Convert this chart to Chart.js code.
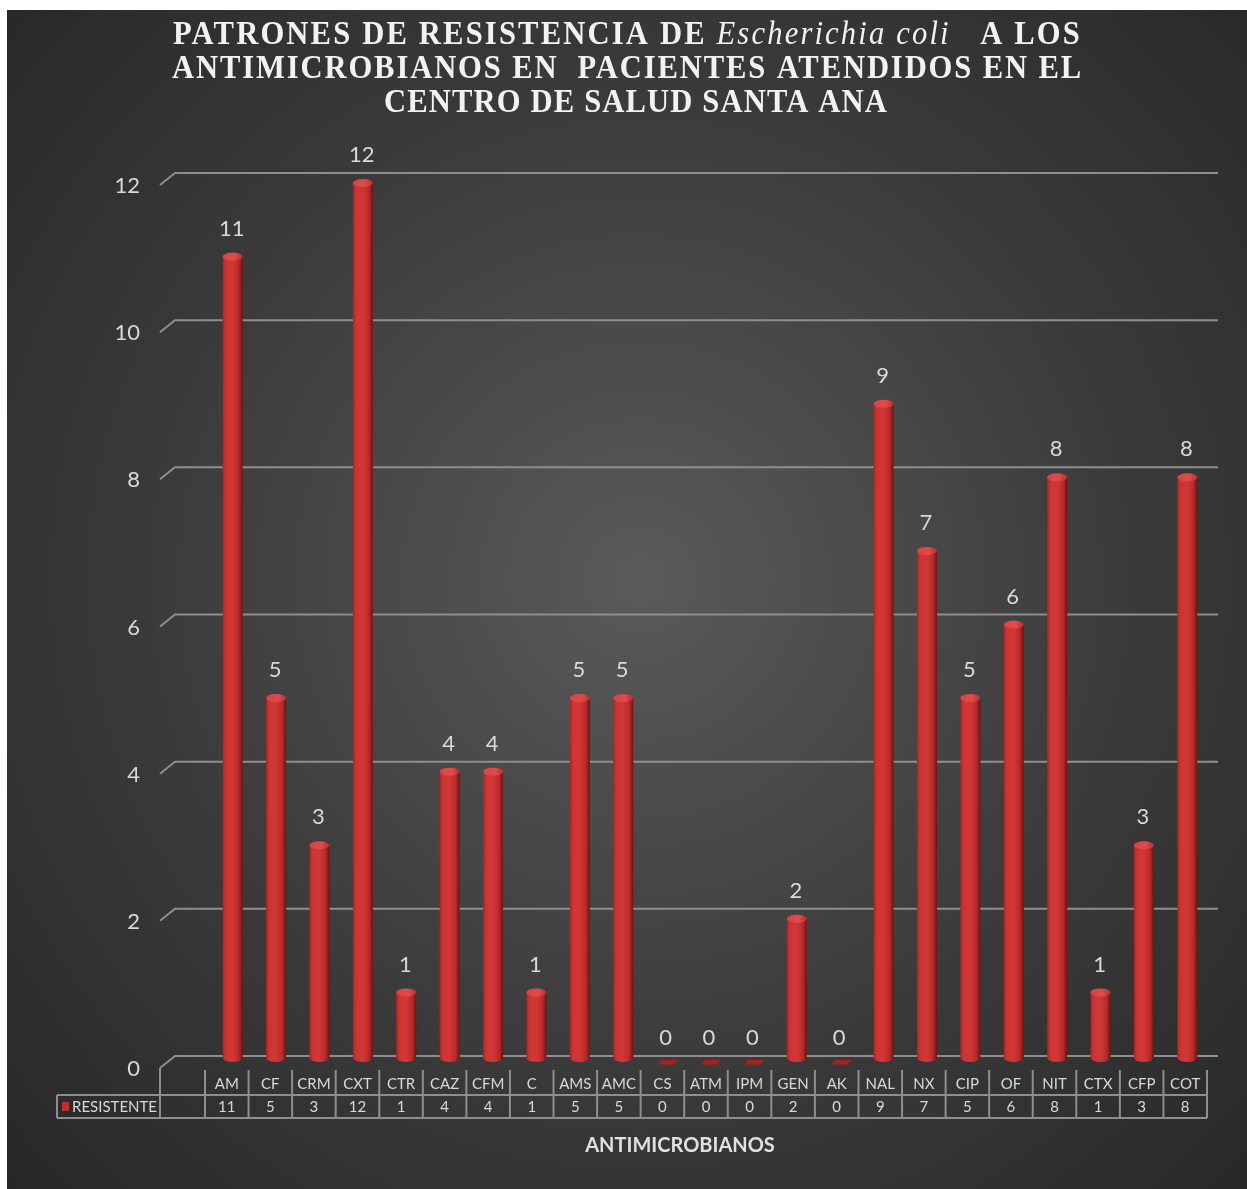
<!DOCTYPE html>
<html>
<head>
<meta charset="utf-8">
<script src="https://cdn.jsdelivr.net/npm/chart.js@4"></script>
<style>
  body { margin: 0; background: #fff; }
  #caja { width: 1247px; height: 1189px; }
</style>
</head>
<body>
<div id="caja"><canvas id="misBarras" width="1247" height="1189"></canvas></div>
<script>
// datos del grafico
const categorias = ['AM','CF','CRM','CXT','CTR','CAZ','CFM','C','AMS','AMC','CS','ATM','IPM','GEN','AK','NAL','NX','CIP','OF','NIT','CTX','CFP','COT'];
const resistente = [11,5,3,12,1,4,4,1,5,5,0,0,0,2,0,9,7,5,6,8,1,3,8];
const serieNombre = 'RESISTENTE';
const ejeX = 'ANTIMICROBIANOS';
const titulo = [
  [{t:'PATRONES DE RESISTENCIA DE ', it:false}, {t:'Escherichia coli', it:true}, {t:'   A LOS', it:false}],
  [{t:'ANTIMICROBIANOS EN  PACIENTES ATENDIDOS EN EL', it:false}],
  [{t:'CENTRO DE SALUD SANTA ANA', it:false}]
];

const gris = '#d9d9d9';
const linea = '#8e8e8e';
const apretar = 0.9; // letras del titulo un poco mas angostas

function fuenteTitulo(it) {
  return it ? 'italic 34px "Liberation Serif"' : 'bold 34px "Liberation Serif"';
}

function lineaTitulo(ctx, segs, x0, x1, base) {
  ctx.save();
  ctx.translate(x0, base);
  ctx.scale(apretar, 1);
  ctx.letterSpacing = '0px';
  let w = 0, n = 0;
  segs.forEach(s => { ctx.font = fuenteTitulo(s.it); w += ctx.measureText(s.t).width; n += s.t.length; });
  const ls = ((x1 - x0) / apretar - w) / n;
  ctx.letterSpacing = ls + 'px';
  let x = 0;
  segs.forEach(s => {
    ctx.font = fuenteTitulo(s.it);
    ctx.fillText(s.t, x, 0);
    x += ctx.measureText(s.t).width;
  });
  ctx.restore();
}

const fondo = {
  id: 'fondo',
  beforeDraw(chart) {
    const ctx = chart.ctx;
    ctx.save();
    ctx.fillStyle = '#fff';
    ctx.fillRect(0, 0, chart.width, chart.height);
    const g = ctx.createRadialGradient(640, 580, 0, 640, 580, 900);
    g.addColorStop(0, '#5a5a5a');
    g.addColorStop(0.55, '#3a3a3a');
    g.addColorStop(1, '#262626');
    ctx.fillStyle = g;
    ctx.fillRect(7, 10, chart.width - 7, chart.height - 10);
    ctx.restore();
  },
  beforeDatasetsDraw(chart) {
    // lineas de division en la pared del fondo
    const ctx = chart.ctx, y = chart.scales.y, a = chart.chartArea;
    ctx.save();
    ctx.strokeStyle = linea;
    ctx.lineWidth = 2;
    y.ticks.forEach(t => {
      const yb = y.getPixelForValue(t.value) - 6;
      ctx.beginPath();
      ctx.moveTo(a.left - 45, yb + 12);
      ctx.lineTo(a.left - 30, yb);
      ctx.lineTo(a.right + 11, yb);
      ctx.stroke();
    });
    ctx.restore();
  },
  afterDatasetsDraw(chart) {
    const ctx = chart.ctx, meta = chart.getDatasetMeta(0);
    const xs = chart.scales.x;
    ctx.save();
    meta.data.forEach((el, i) => {
      const v = resistente[i];
      const frac = (el.x - xs.left) / (xs.right - xs.left);
      const x = el.x + 6 - 4 * frac;
      const r = 10, ry = 4;
      const top = el.y, base = el.base;
      if (v === 0) {
        ctx.fillStyle = '#a82020';
        ctx.beginPath();
        ctx.moveTo(x - 9, base + 2.5);
        ctx.lineTo(x + 7, base + 2.5);
        ctx.lineTo(x + 11, base - 2);
        ctx.lineTo(x - 5, base - 2);
        ctx.closePath();
        ctx.fill();
      } else {
        const g = ctx.createLinearGradient(x - r, 0, x + r, 0);
        g.addColorStop(0, '#a62424');
        g.addColorStop(0.15, '#cc3434');
        g.addColorStop(0.5, '#d23737');
        g.addColorStop(0.8, '#b82a2a');
        g.addColorStop(1, '#6c1313');
        ctx.fillStyle = g;
        ctx.beginPath();
        ctx.moveTo(x - r, top + ry);
        ctx.lineTo(x - r, base - ry);
        ctx.ellipse(x, base - ry, r, ry, 0, Math.PI, 0, true);
        ctx.lineTo(x + r, top + ry);
        ctx.closePath();
        ctx.fill();
        const gc = ctx.createLinearGradient(x - r, 0, x + r, 0);
        gc.addColorStop(0, '#d84444');
        gc.addColorStop(0.6, '#e04a4a');
        gc.addColorStop(1, '#b83030');
        ctx.fillStyle = gc;
        ctx.beginPath();
        ctx.ellipse(x, top + ry, r, ry, 0, 0, Math.PI * 2);
        ctx.fill();
      }
      ctx.fillStyle = gris;
      ctx.font = '22px Lato';
      ctx.textAlign = 'center';
      ctx.textBaseline = 'middle';
      ctx.fillText(String(v), x - 1, top - 24);
    });
    ctx.restore();
  },
  afterDraw(chart) {
    const ctx = chart.ctx, xs = chart.scales.x, a = chart.chartArea;
    const colW = (a.right - a.left) / categorias.length;
    ctx.save();
    // tabla de datos
    ctx.strokeStyle = linea;
    ctx.lineWidth = 2;
    const yTop = a.bottom + 6, yMid = 1095, yBot = 1118, xLeg = 57, xIn = a.left - 45;
    ctx.beginPath();
    ctx.moveTo(xIn, yTop); ctx.lineTo(xIn, yBot);
    for (let i = 0; i <= categorias.length; i++) {
      const xx = a.left + i * colW;
      ctx.moveTo(xx, yTop + 2); ctx.lineTo(xx, yBot);
    }
    ctx.moveTo(xLeg, yMid); ctx.lineTo(a.right, yMid);
    ctx.moveTo(xLeg, yBot); ctx.lineTo(a.right, yBot);
    ctx.moveTo(xLeg, yMid); ctx.lineTo(xLeg, yBot);
    ctx.stroke();

    ctx.fillStyle = gris;
    ctx.font = '15px Lato';
    ctx.textAlign = 'center';
    ctx.textBaseline = 'middle';
    resistente.forEach((v, i) => {
      ctx.fillText(String(v), xs.getPixelForValue(i), (yMid + yBot) / 2 + 1);
    });
    // clave de la serie
    ctx.fillStyle = '#c62e2e';
    ctx.fillRect(62, 1102, 7, 9);
    ctx.fillStyle = gris;
    ctx.textAlign = 'left';
    ctx.fillText(serieNombre, 72, (yMid + yBot) / 2 + 1);

    // titulo del eje
    ctx.textAlign = 'center';
    ctx.font = 'bold 20px Lato';
    ctx.fillStyle = '#e0e0e0';
    ctx.fillText(ejeX, 680, 1146);

    // titulo del grafico
    ctx.fillStyle = '#f2f2f2';
    ctx.textAlign = 'left';
    ctx.textBaseline = 'alphabetic';
    lineaTitulo(ctx, titulo[0], 173, 1082, 44);
    lineaTitulo(ctx, titulo[1], 172, 1083, 78);
    lineaTitulo(ctx, titulo[2], 384, 888, 112);
    ctx.restore();
  }
};

new Chart(document.getElementById('misBarras'), {
  type: 'bar',
  data: {
    labels: categorias,
    datasets: [{
      label: serieNombre,
      data: resistente,
      backgroundColor: 'rgba(0,0,0,0)',
      borderWidth: 0,
      barThickness: 20
    }]
  },
  options: {
    responsive: false,
    animation: false,
    layout: { padding: { top: 179, right: 40, left: 0, bottom: 0 } },
    scales: {
      x: {
        grid: { display: false, drawTicks: false },
        border: { display: false },
        ticks: { color: gris, font: { family: 'Lato', size: 15 }, padding: 13, maxRotation: 0, autoSkip: false },
        afterFit: s => { s.height = 127; }
      },
      y: {
        min: 0,
        max: 12,
        grid: { display: false, drawTicks: false },
        border: { display: false },
        ticks: { stepSize: 2, color: gris, font: { family: 'Lato', size: 22 }, padding: 65, labelOffset: 7 },
        afterFit: s => { s.width = 205; }
      }
    },
    plugins: { legend: { display: false }, tooltip: { enabled: false } }
  },
  plugins: [fondo]
});
</script>
</body>
</html>
